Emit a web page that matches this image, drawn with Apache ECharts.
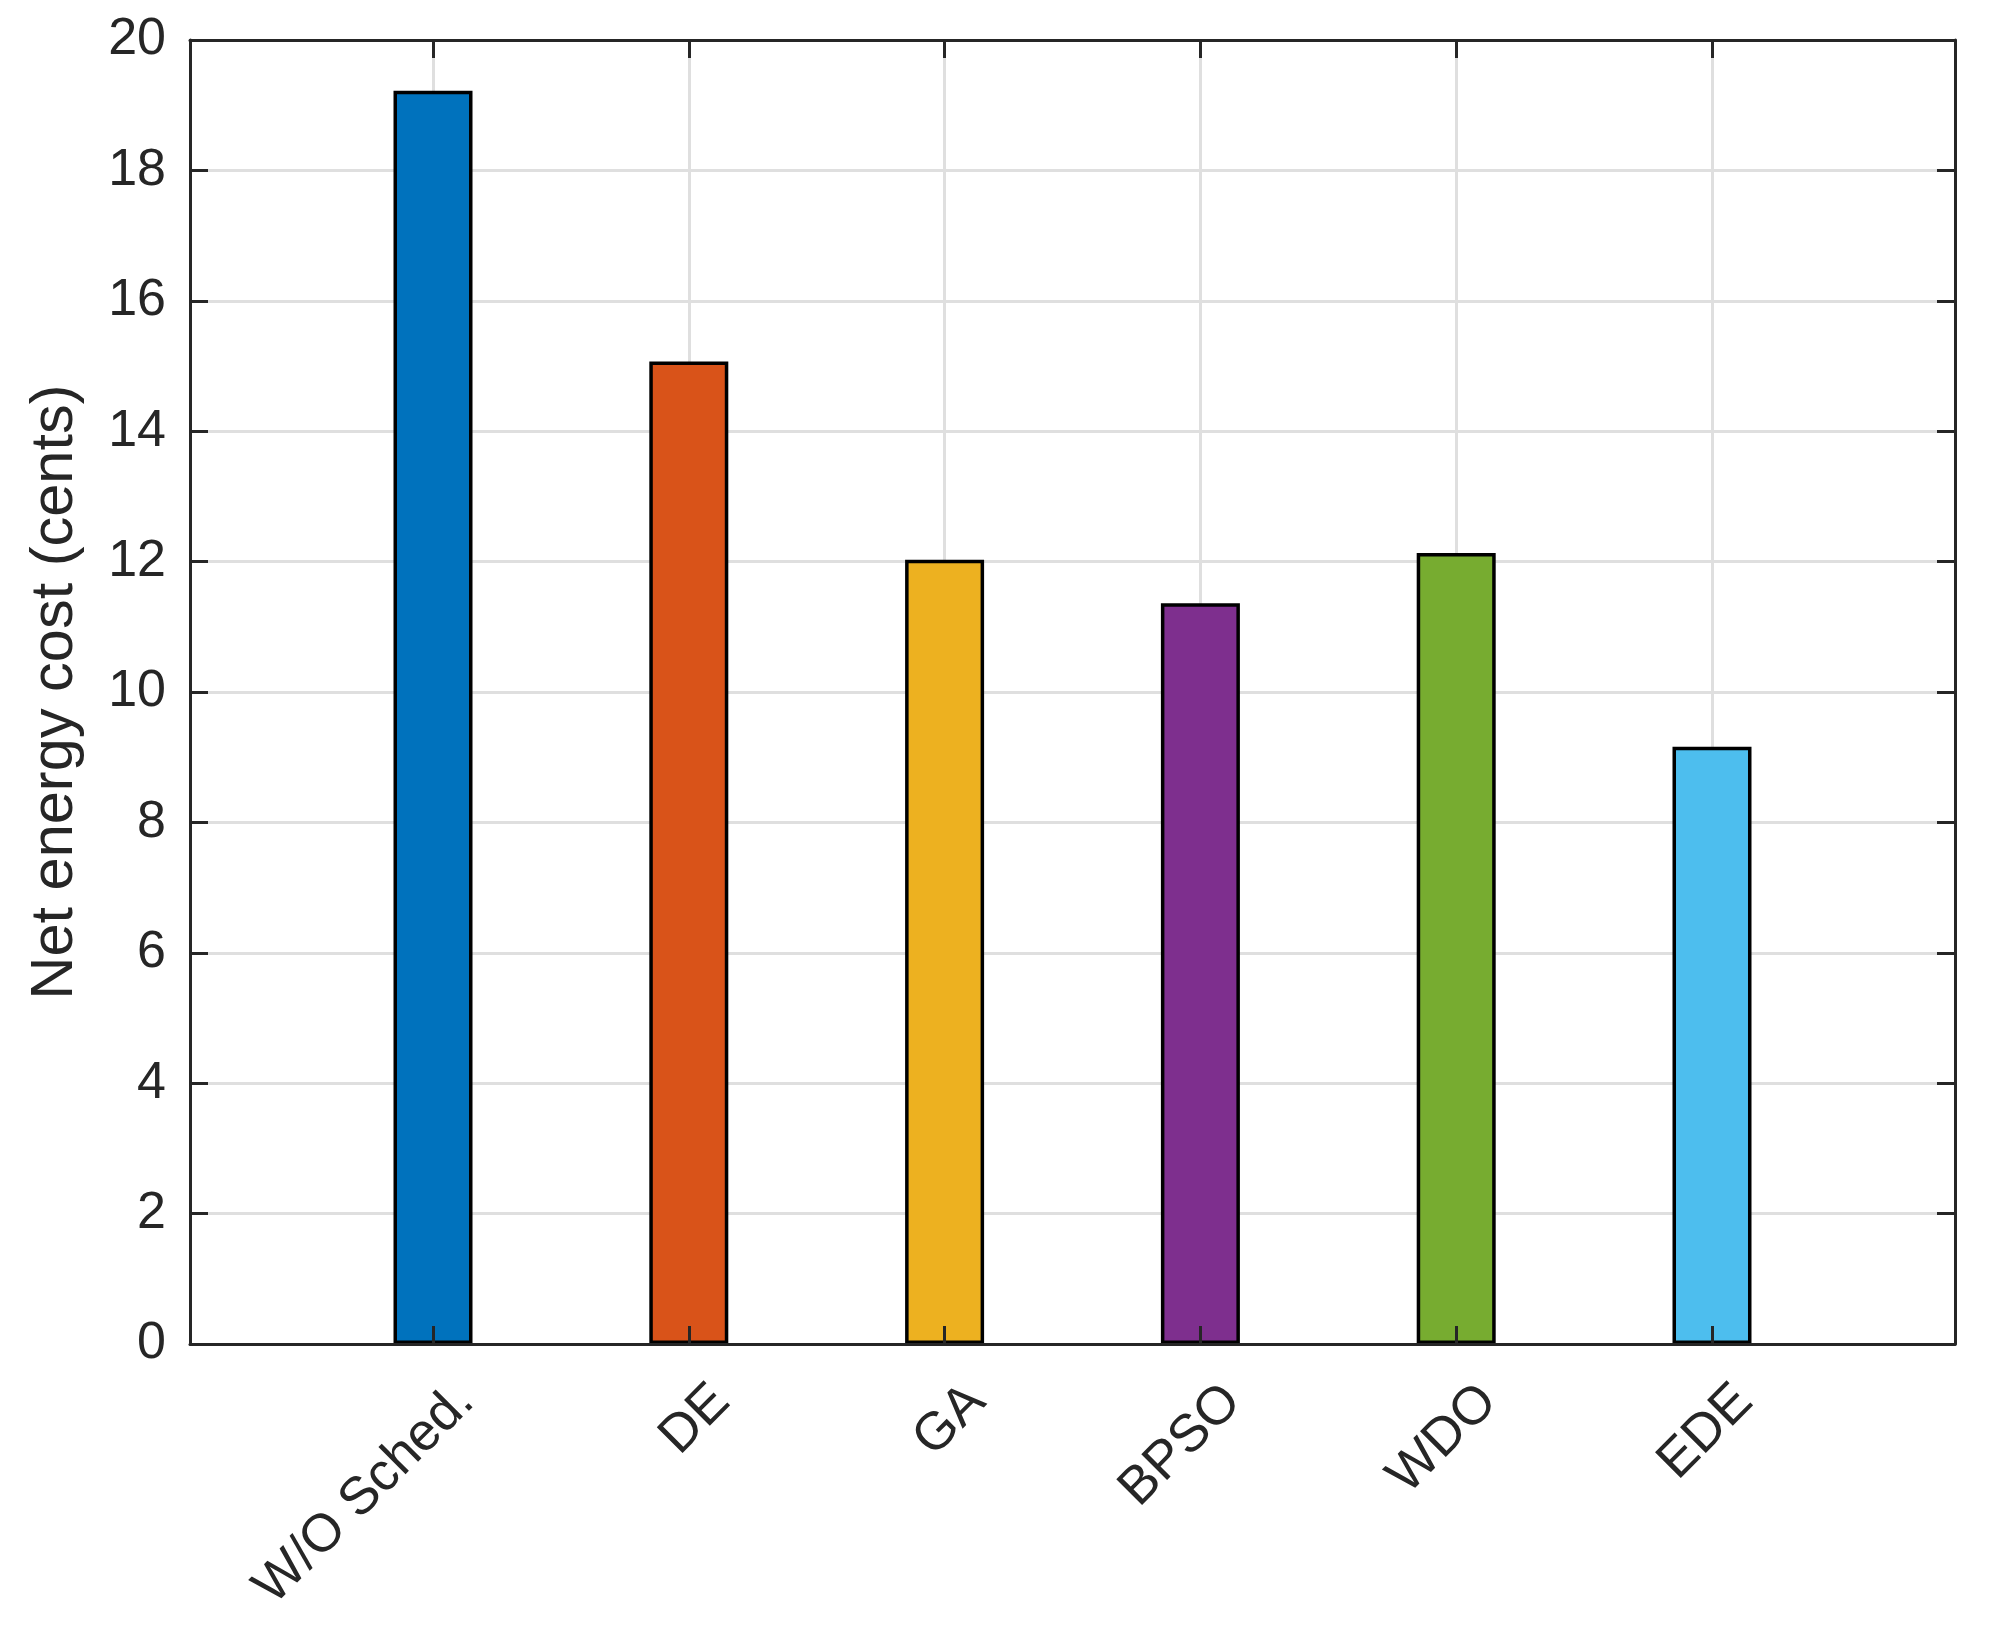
<!DOCTYPE html>
<html>
<head>
<meta charset="utf-8">
<script src="https://cdn.jsdelivr.net/npm/echarts@6/dist/echarts.min.js"></script>
<style>
html,body{margin:0;padding:0;background:#fff;}
#chart{width:1995px;height:1641px;}
</style>
</head>
<body>
<div id="chart"></div>
<script>
const categories = ['W/O Sched.', 'DE', 'GA', 'BPSO', 'WDO', 'EDE'];
const values = [19.22, 15.07, 12.03, 11.36, 12.13, 9.16];
const barColors = ['#0072BD', '#D95319', '#EDB120', '#7E2F8E', '#77AC30', '#4DBEEE'];
const yTicks = [0, 2, 4, 6, 8, 10, 12, 14, 16, 18, 20];
const yLabel = 'Net energy cost (cents)';

const FONT = '"Liberation Sans", Arial, Helvetica, sans-serif';
const AX = '#262626';
const GRIDC = '#DFDFDF';

const chart = echarts.init(document.getElementById('chart'), null, {renderer: 'canvas'});

const xMin = 0.05, xMax = categories.length + 0.95;

const option = {
  animation: false,
  backgroundColor: '#ffffff',
  grid: {left: 190, right: 40, top: 40, bottom: 297, containLabel: false},
  xAxis: [
    {
      type: 'value', position: 'bottom', min: xMin, max: xMax, splitNumber: 6, z: 10,
      axisLine: {show: true, onZero: false, lineStyle: {color: AX, width: 3}},
      axisTick: {show: true, inside: true, length: 18, lineStyle: {color: AX, width: 3}},
      splitLine: {show: false},
      axisLabel: {
        show: true, rotate: 45, margin: 17, align: 'right', verticalAlign: 'top', lineHeight: 92,
        color: AX, fontSize: 53, fontFamily: FONT,
        formatter: function (v) {
          const i = Math.round(v);
          if (Math.abs(v - i) > 1e-6 || i < 1 || i > categories.length) return '';
          return categories[i - 1];
        }
      }
    },
    {
      type: 'value', position: 'top', min: xMin, max: xMax, splitNumber: 6, z: 0,
      axisLine: {show: true, onZero: false, lineStyle: {color: AX, width: 3}},
      axisTick: {show: true, inside: true, length: 18, lineStyle: {color: AX, width: 3}},
      splitLine: {show: true, lineStyle: {color: GRIDC, width: 3}},
      axisLabel: {show: false}
    }
  ],
  yAxis: [
    {
      type: 'value', position: 'left', min: yTicks[0], max: yTicks[yTicks.length - 1], interval: yTicks[1] - yTicks[0], z: 10,
      name: yLabel, nameLocation: 'middle', nameRotate: 90, nameGap: 104,
      nameTextStyle: {color: AX, fontSize: 59.5, fontFamily: FONT},
      axisLine: {show: true, onZero: false, lineStyle: {color: AX, width: 3}},
      axisTick: {show: true, inside: true, length: 18, lineStyle: {color: AX, width: 3}},
      splitLine: {show: false},
      axisLabel: {show: true, margin: 24, color: AX, fontSize: 52, fontFamily: FONT}
    },
    {
      type: 'value', position: 'right', min: yTicks[0], max: yTicks[yTicks.length - 1], interval: yTicks[1] - yTicks[0], z: 0,
      axisLine: {show: true, onZero: false, lineStyle: {color: AX, width: 3}},
      axisTick: {show: true, inside: true, length: 18, lineStyle: {color: AX, width: 3}},
      splitLine: {show: true, lineStyle: {color: GRIDC, width: 3}},
      axisLabel: {show: false}
    }
  ],
  series: [{
    type: 'bar',
    xAxisIndex: 0, yAxisIndex: 0,
    barWidth: 79,
    z: 5,
    data: values.map(function (v, i) {
      return {value: [i + 1, v], itemStyle: {color: barColors[i]}};
    }),
    itemStyle: {borderColor: '#000000', borderWidth: 3.5}
  }]
};
chart.setOption(option);
</script>
</body>
</html>
